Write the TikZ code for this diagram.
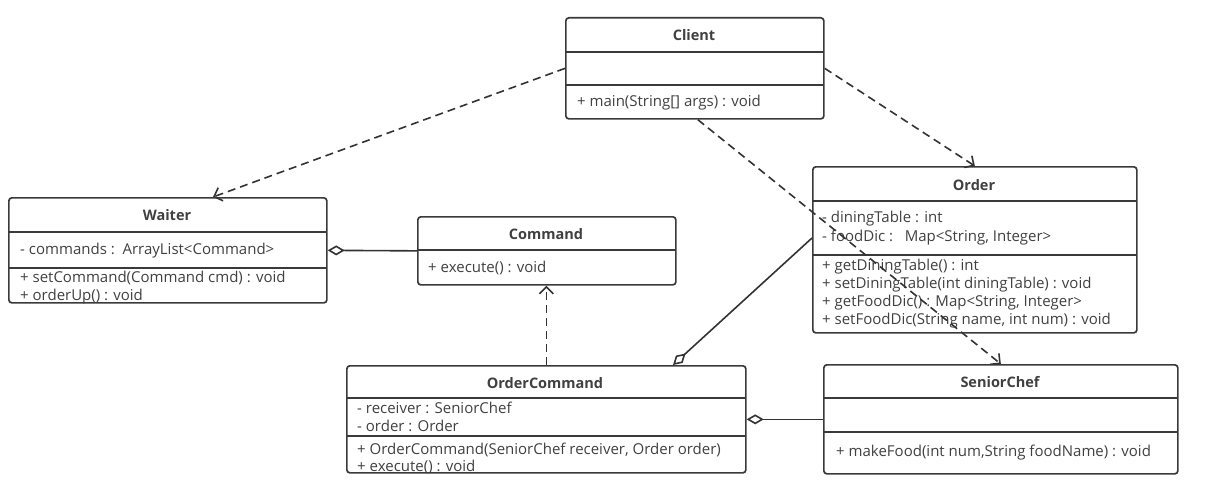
\documentclass[tikz,border=0pt]{standalone}
\usepackage{fontspec}
\setmainfont{Open Sans}
\usetikzlibrary{arrows.meta,calc}
\definecolor{boxc}{HTML}{3A3A3A}
\definecolor{txtc}{HTML}{404040}
\definecolor{linec}{HTML}{333333}
\tikzset{
  umlbox/.style={draw=boxc, line width=1.7pt, rounded corners=3pt, anchor=north west, inner sep=0pt},
  divider/.style={draw=boxc, line width=1.7pt},
  classtitle/.style={font=\bfseries\fontsize{14.5}{17}\selectfont, text=txtc, inner sep=0pt},
  member/.style={anchor=west, yshift=-1.5pt, font=\fontsize{15}{17}\selectfont, text=txtc, inner sep=0pt, text height=1.6ex, text depth=0.4ex},
  dep/.style={draw=linec, line width=1.6pt, dash pattern=on 8pt off 5pt, -{Straight Barb[length=7pt,width=14pt]}},
  agg/.style={draw=linec, line width=1.6pt, {Diamond[open,length=17pt,width=10pt]}-},
}
\begin{document}
\begin{tikzpicture}[x=1pt,y=-1pt]
\useasboundingbox (0,0) rectangle (1229,495);

% Client
\node[umlbox, minimum width=258pt, minimum height=101pt] (client) at (565,17) {};
\draw[divider] (565,52) -- (823,52);
\draw[divider] (565,85) -- (823,85);
\node[classtitle] (clientT) at (694,35) {Client};
\node[member] (clientM1) at (577,102) {+ main(String[] args) : void};

% Waiter
\node[umlbox, minimum width=318pt, minimum height=105pt] (waiter) at (8,197) {};
\draw[divider] (8,232) -- (326,232);
\draw[divider] (8,268) -- (326,268);
\node[classtitle] (waiterT) at (167,215) {Waiter};
\node[member] (waiterA1) at (20,250) {- commands :\ \ ArrayList<Command>};
\node[member] (waiterM1) at (20,278) {+ setCommand(Command cmd) : void};
\node[member] (waiterM2) at (20,296) {+ orderUp() : void};

% Command
\node[umlbox, minimum width=258pt, minimum height=68pt] (command) at (417,216) {};
\draw[divider] (417,250) -- (675,250);
\node[classtitle] (commandT) at (546,234) {Command};
\node[member] (commandM1) at (428,268) {+ execute() : void};

% Order
\node[umlbox, minimum width=324pt, minimum height=166pt] (order) at (812,166) {};
\draw[divider] (812,201) -- (1136,201);
\draw[divider] (812,255) -- (1136,255);
\node[classtitle] (orderT) at (974,185) {Order};
\node[member] (orderA1) at (822,218) {- diningTable : int};
\node[member] (orderA2) at (822,237) {- foodDic :\ \ \ Map<String, Integer>};
\node[member] (orderM1) at (822,266) {+ getDiningTable() : int};
\node[member] (orderM2) at (822,284) {+ setDiningTable(int diningTable) : void};
\node[member] (orderM3) at (822,302) {+ getFoodDic() : Map<String, Integer>};
\node[member] (orderM4) at (822,320) {+ setFoodDic(String name, int num) : void};

% OrderCommand
\node[umlbox, minimum width=399pt, minimum height=107pt] (ordercmd) at (346,365) {};
\draw[divider] (346,398) -- (745,398);
\draw[divider] (346,436) -- (745,436);
\node[classtitle] (ordercmdT) at (545,383) {OrderCommand};
\node[member] (ordercmdA1) at (357,409) {- receiver : SeniorChef};
\node[member] (ordercmdA2) at (357,427) {- order : Order};
\node[member] (ordercmdM1) at (357,450) {+ OrderCommand(SeniorChef receiver, Order order)};
\node[member] (ordercmdM2) at (357,467) {+ execute() : void};

% SeniorChef
\node[umlbox, minimum width=354pt, minimum height=109pt] (chef) at (823,364) {};
\draw[divider] (823,398) -- (1177,398);
\draw[divider] (823,432) -- (1177,432);
\node[classtitle] (chefT) at (1000,382) {SeniorChef};
\node[member] (chefM1) at (836,452) {+ makeFood(int num,String foodName) : void};

% Dependencies from Client
\draw[dep] (client.west) -- ($(waiter.north west)+(205,0)$);
\draw[dep] (client.east) -- (order.north);
\draw[dep] ($(client.south)+(3,0)$) -- (chef.north);

% Realization
\draw[dep] (ordercmd.north) -- (ordercmd.north |- command.south);

% Aggregations
\draw[agg] (waiter.east) -- (command.west);
\draw[agg] ($(ordercmd.north west)+(327,0)$) -- ($(order.north west)+(0,72)$);
\draw[agg] (ordercmd.east) -- (chef.west);
\end{tikzpicture}
\end{document}
